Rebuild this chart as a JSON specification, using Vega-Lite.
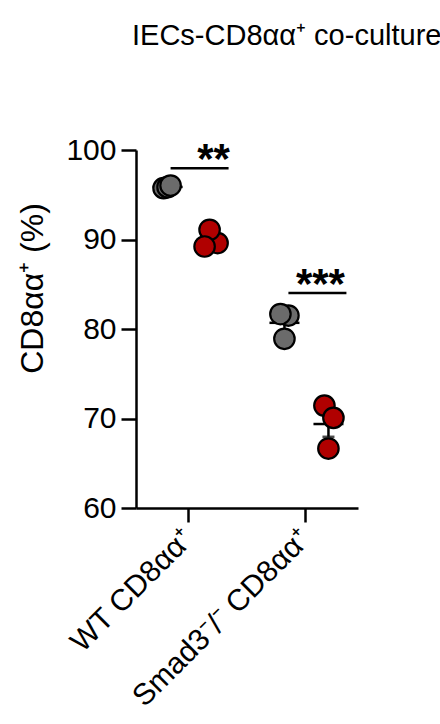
{
  "$schema": "https://vega.github.io/schema/vega-lite/v6.json",
  "autosize": "none",
  "width": 222,
  "height": 358,
  "padding": {"left": 136, "top": 150, "right": 82, "bottom": 216},
  "background": "white",
  "config": {
    "font": "Liberation Sans",
    "view": {"stroke": null},
    "axis": {"domainColor": "black", "domainWidth": 2.5, "tickColor": "black", "tickWidth": 2.5, "labelColor": "black", "titleColor": "black", "grid": false}
  },
  "title": {"text": "IECs-CD8αα⁺ co-culture", "anchor": "start", "frame": "group", "fontSize": 29, "fontWeight": "normal", "color": "black", "offset": 84, "dx": -4},
  "datasets": {
    "cells": [
      {"group": "WT CD8αα⁺", "condition": "ctrl", "dx": -25, "pct": 95.74},
      {"group": "WT CD8αα⁺", "condition": "ctrl", "dx": -21, "pct": 95.85},
      {"group": "WT CD8αα⁺", "condition": "ctrl", "dx": -18, "pct": 96.03},
      {"group": "WT CD8αα⁺", "condition": "treat", "dx": 29, "pct": 89.6},
      {"group": "WT CD8αα⁺", "condition": "treat", "dx": 21, "pct": 91.08},
      {"group": "WT CD8αα⁺", "condition": "treat", "dx": 16, "pct": 89.22},
      {"group": "Smad3⁻/⁻ CD8αα⁺", "condition": "ctrl", "dx": -17, "pct": 81.5},
      {"group": "Smad3⁻/⁻ CD8αα⁺", "condition": "ctrl", "dx": -25, "pct": 81.67},
      {"group": "Smad3⁻/⁻ CD8αα⁺", "condition": "ctrl", "dx": -21, "pct": 78.9},
      {"group": "Smad3⁻/⁻ CD8αα⁺", "condition": "treat", "dx": 19, "pct": 71.44},
      {"group": "Smad3⁻/⁻ CD8αα⁺", "condition": "treat", "dx": 28, "pct": 70.07},
      {"group": "Smad3⁻/⁻ CD8αα⁺", "condition": "treat", "dx": 23, "pct": 66.64}
    ],
    "sig": [
      {"group": "WT CD8αα⁺", "dx": 11, "star_dx": 25, "pct": 97.97, "label": "**"},
      {"group": "Smad3⁻/⁻ CD8αα⁺", "dx": 12, "star_dx": 15, "pct": 84.02, "label": "***"}
    ]
  },
  "encoding": {
    "x": {
      "field": "group", "type": "nominal", "sort": null, "title": null,
      "scale": {"domain": ["WT CD8αα⁺", "Smad3⁻/⁻ CD8αα⁺"], "paddingInner": 0.5, "paddingOuter": 0.2},
      "axis": {"labelAngle": -45, "labelFontSize": 30, "labelLimit": 0, "tickSize": 14, "labelPadding": 12, "labelAlign": "right", "labelBaseline": "middle"}
    },
    "y": {
      "field": "pct", "type": "quantitative",
      "title": "CD8αα⁺ (%)",
      "scale": {"domain": [60, 100], "nice": false, "zero": false},
      "axis": {"values": [60, 70, 80, 90, 100], "tickSize": 15, "labelFontSize": 30, "labelPadding": 5, "titleFontSize": 32, "titleFontWeight": "normal", "titleAngle": -90, "titleBaseline": "alphabetic", "titleAlign": "center", "titleX": -94, "titleY": 138}
    }
  },
  "layer": [
    {
      "data": {"name": "cells"},
      "mark": {"type": "errorbar", "extent": "stderr", "ticks": {"size": 12, "thickness": 2.5, "color": "black"}, "thickness": 2.5, "color": "black"},
      "encoding": {
        "xOffset": {"field": "condition", "type": "nominal", "scale": {"domain": ["ctrl", "treat"], "range": [-13.75, 74.25], "paddingInner": 0, "paddingOuter": 0}}
      }
    },
    {
      "data": {"name": "cells"},
      "mark": {"type": "tick", "color": "black", "size": 30, "thickness": 2.5, "opacity": 1},
      "encoding": {
        "xOffset": {"field": "condition", "type": "nominal", "scale": {"domain": ["ctrl", "treat"], "range": [-13.75, 74.25], "paddingInner": 0, "paddingOuter": 0}},
        "y": {"aggregate": "mean", "field": "pct", "type": "quantitative"}
      }
    },
    {
      "data": {"name": "cells"},
      "mark": {"type": "point", "shape": "circle", "filled": true, "size": 420, "stroke": "black", "strokeWidth": 2.2, "opacity": 1},
      "encoding": {
        "xOffset": {"field": "dx", "type": "quantitative", "scale": {"domain": [-29.21, 29.21], "range": [0, 58.42]}},
        "fill": {"field": "condition", "type": "nominal", "legend": null, "scale": {"domain": ["ctrl", "treat"], "range": ["#6b6b6b", "#b00000"]}}
      }
    },
    {
      "data": {"name": "sig"},
      "mark": {"type": "tick", "color": "black", "size": 58, "thickness": 2.5, "opacity": 1},
      "encoding": {
        "xOffset": {"field": "dx", "type": "quantitative", "scale": {"domain": [-29.21, 29.21], "range": [0, 58.42]}}
      }
    },
    {
      "data": {"name": "sig"},
      "mark": {"type": "text", "fontSize": 42, "fontWeight": "bold", "color": "black", "baseline": "alphabetic", "dy": 5},
      "encoding": {
        "xOffset": {"field": "star_dx", "type": "quantitative", "scale": {"domain": [-29.21, 29.21], "range": [0, 58.42]}},
        "text": {"field": "label"}
      }
    }
  ],
  "resolve": {"scale": {"xOffset": "independent"}}
}
